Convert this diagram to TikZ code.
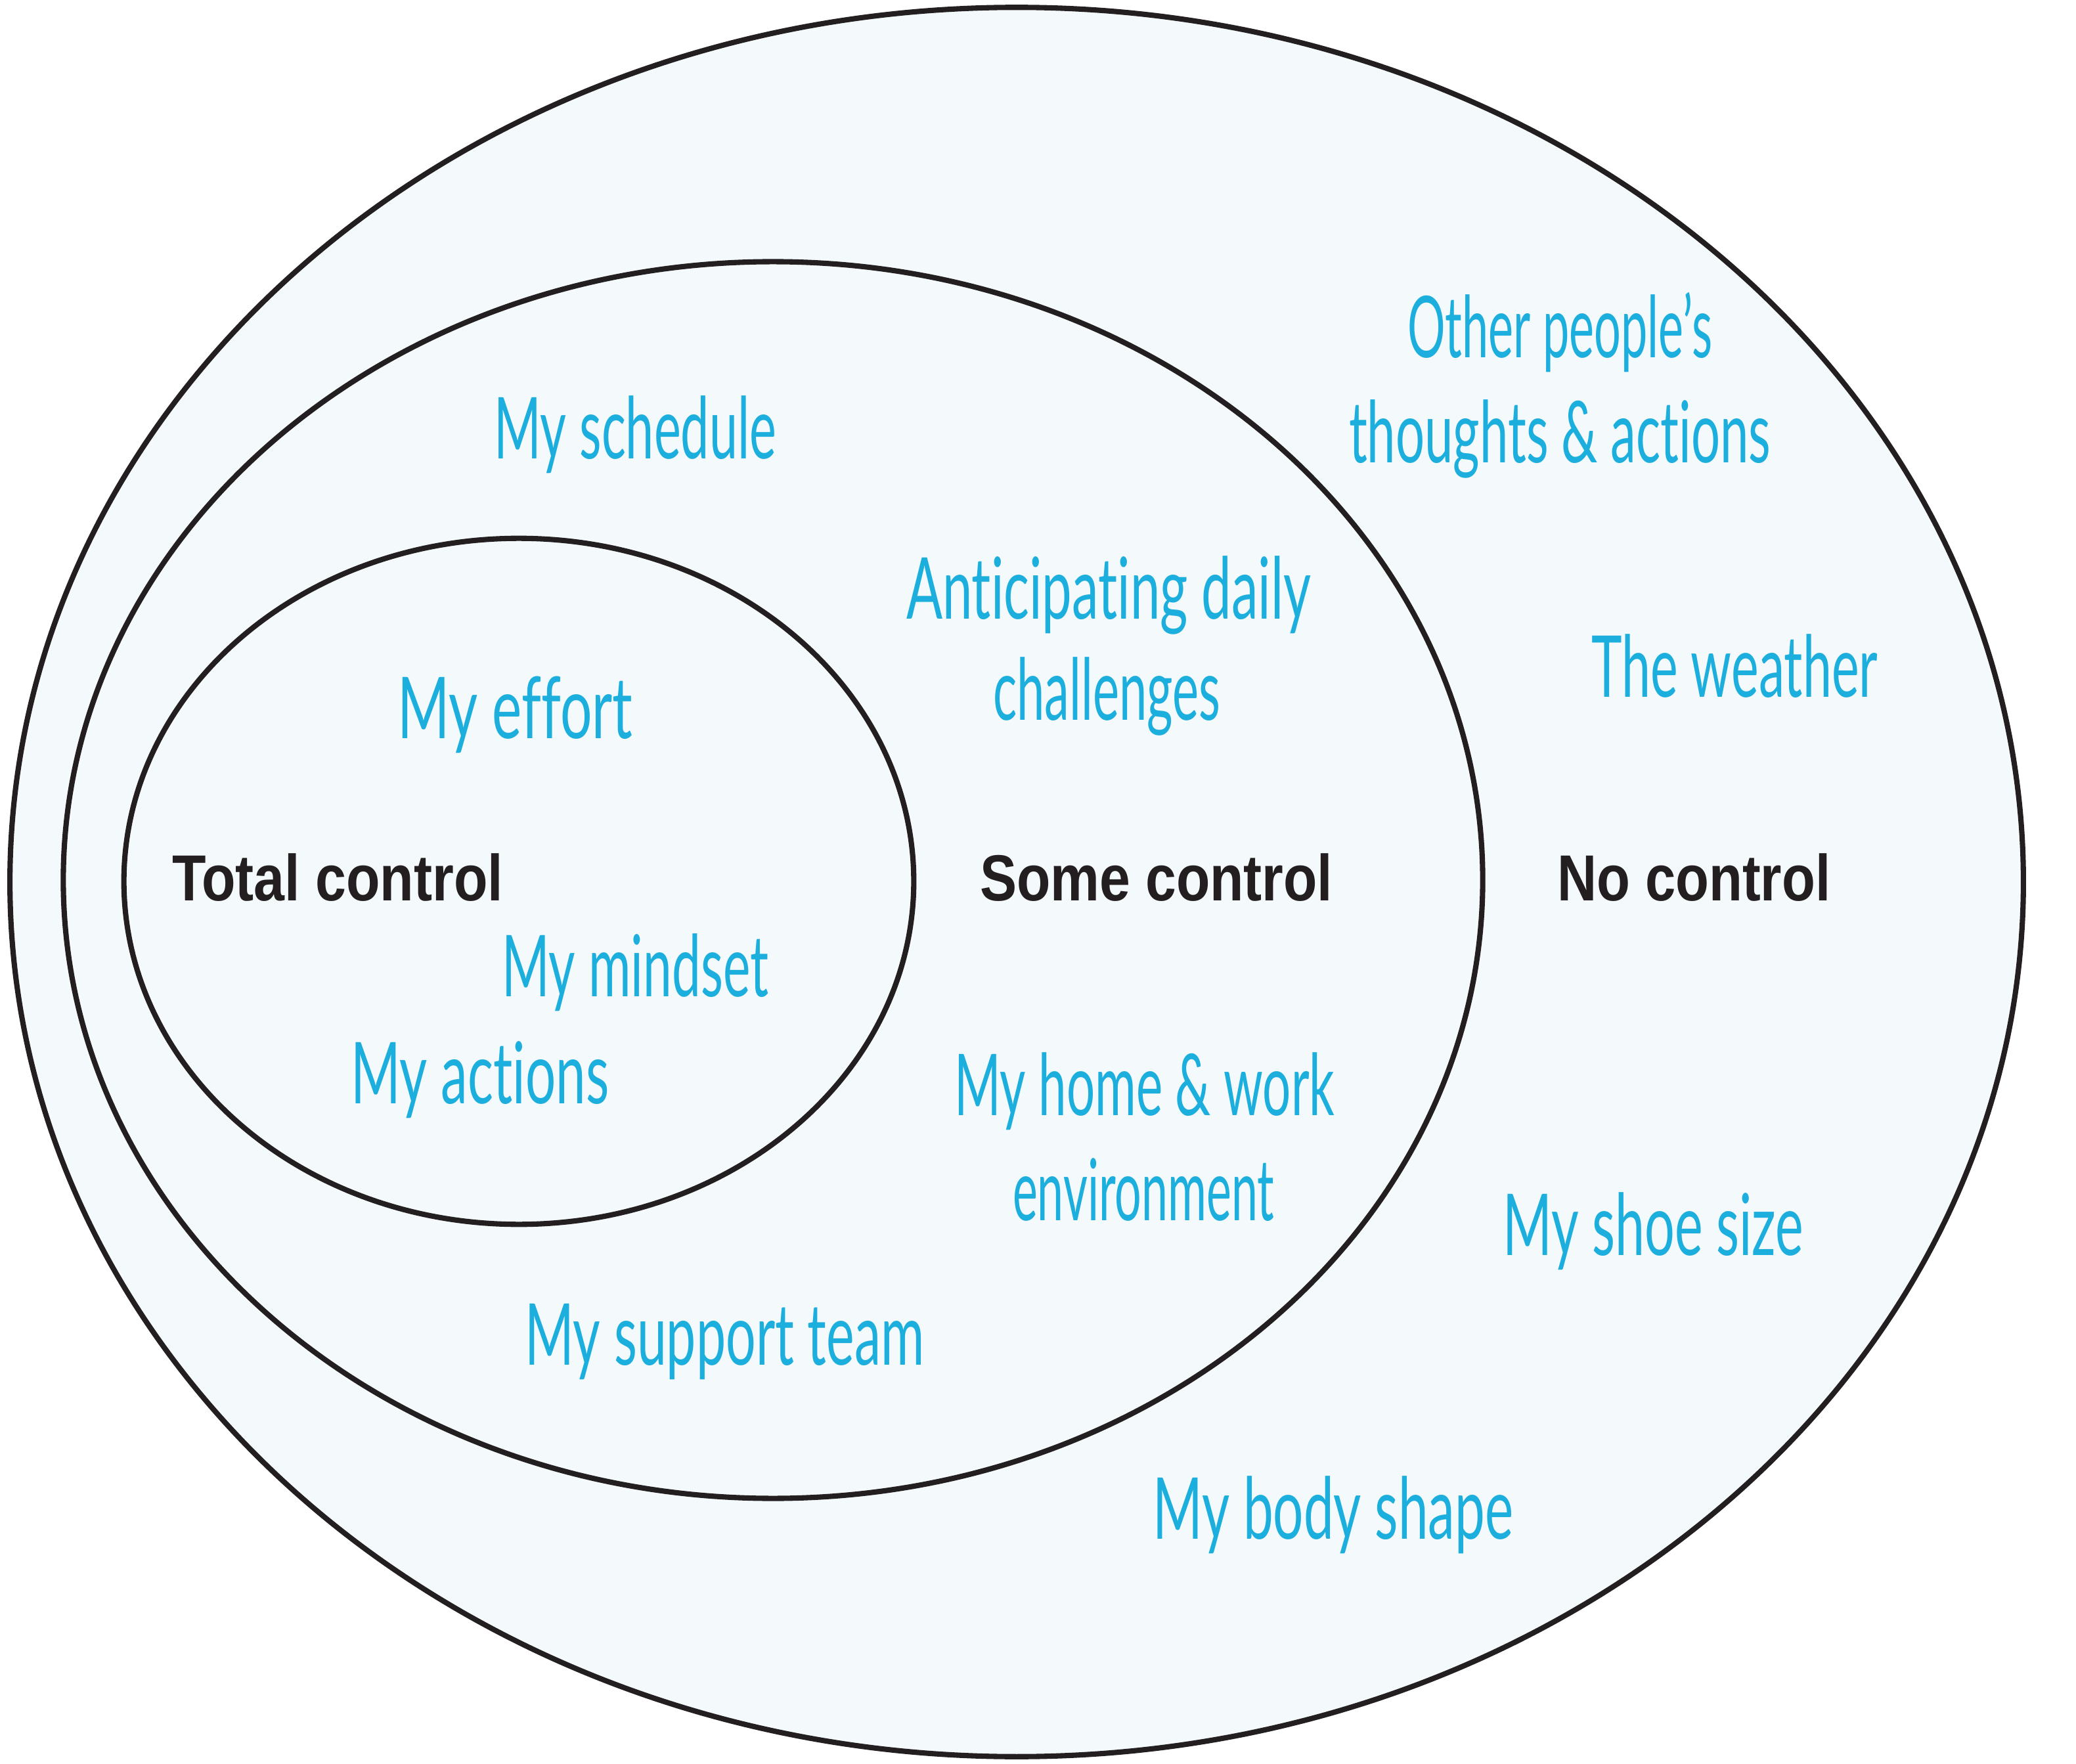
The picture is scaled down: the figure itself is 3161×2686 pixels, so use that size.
\documentclass[tikz,border=0pt]{standalone}
\usepackage{fontspec}
\setmainfont{Liberation Sans}
\newfontfamily\hand{Lato}[Ligatures={NoCommon}]
\definecolor{hwcyan}{HTML}{1CAFDE}
\definecolor{bgfill}{HTML}{F4F9FC}
\definecolor{rim}{HTML}{231F20}
\newcommand{\hw}[2]{\resizebox{#1}{\height}{\fontsize{37pt}{37pt}\hand #2}}
\newcommand{\lbl}[2]{\resizebox{#1}{\height}{\fontsize{28.2pt}{28.2pt}\bfseries #2}}
\tikzset{
  ring/.style={draw=rim, line width=2.3pt, fill=bgfill},
  hwtext/.style={anchor=base west, inner sep=0pt, outer sep=0pt, text=hwcyan},
  zonelabel/.style={anchor=base west, inner sep=0pt, outer sep=0pt, text=rim}
}
\begin{document}
\begin{tikzpicture}[x=0.01cm,y=-0.01cm]
\useasboundingbox (0,0) rectangle (3161,2686);
\fill[white] (0,0) rectangle (3161,2686);
\draw[ring] (1548,1343) ellipse [x radius=15.32cm, y radius=13.31cm];
\draw[ring] (1177,1340) ellipse [x radius=10.80cm, y radius=9.41cm];
\draw[ring] (790,1342) ellipse [x radius=6.01cm, y radius=5.22cm];

\node[zonelabel] (total) at (262,1371) {\lbl{5.04cm}{Total control}};
\node[zonelabel] (some) at (1492,1371) {\lbl{5.37cm}{Some control}};
\node[zonelabel] (none) at (2371,1371) {\lbl{4.16cm}{No control}};

\node[hwtext] (sched) at (752,699) {\hw{4.30cm}{My schedule}};
\node[hwtext] (other1) at (2143,545) {\hw{4.64cm}{Other people’s}};
\node[hwtext] (other2) at (2054,705) {\hw{6.42cm}{thoughts \& actions}};
\node[hwtext] (antic1) at (1380,943) {\hw{6.16cm}{Anticipating daily}};
\node[hwtext] (antic2) at (1512,1097) {\hw{3.46cm}{challenges}};
\node[hwtext] (weather) at (2423,1062) {\hw{4.36cm}{The weather}};
\node[hwtext] (effort) at (605,1125) {\hw{3.58cm}{My effort}};
\node[hwtext] (mindset) at (764,1517) {\hw{4.06cm}{My mindset}};
\node[hwtext] (actions) at (534,1680) {\hw{3.93cm}{My actions}};
\node[hwtext] (home1) at (1453,1698) {\hw{5.79cm}{My home \& work}};
\node[hwtext] (home2) at (1542,1858) {\hw{3.98cm}{environment}};
\node[hwtext] (shoe) at (2288,1911) {\hw{4.58cm}{My shoe size}};
\node[hwtext] (support) at (799,2078) {\hw{6.08cm}{My support team}};
\node[hwtext] (body) at (1755,2343) {\hw{5.49cm}{My body shape}};
\end{tikzpicture}
\end{document}
